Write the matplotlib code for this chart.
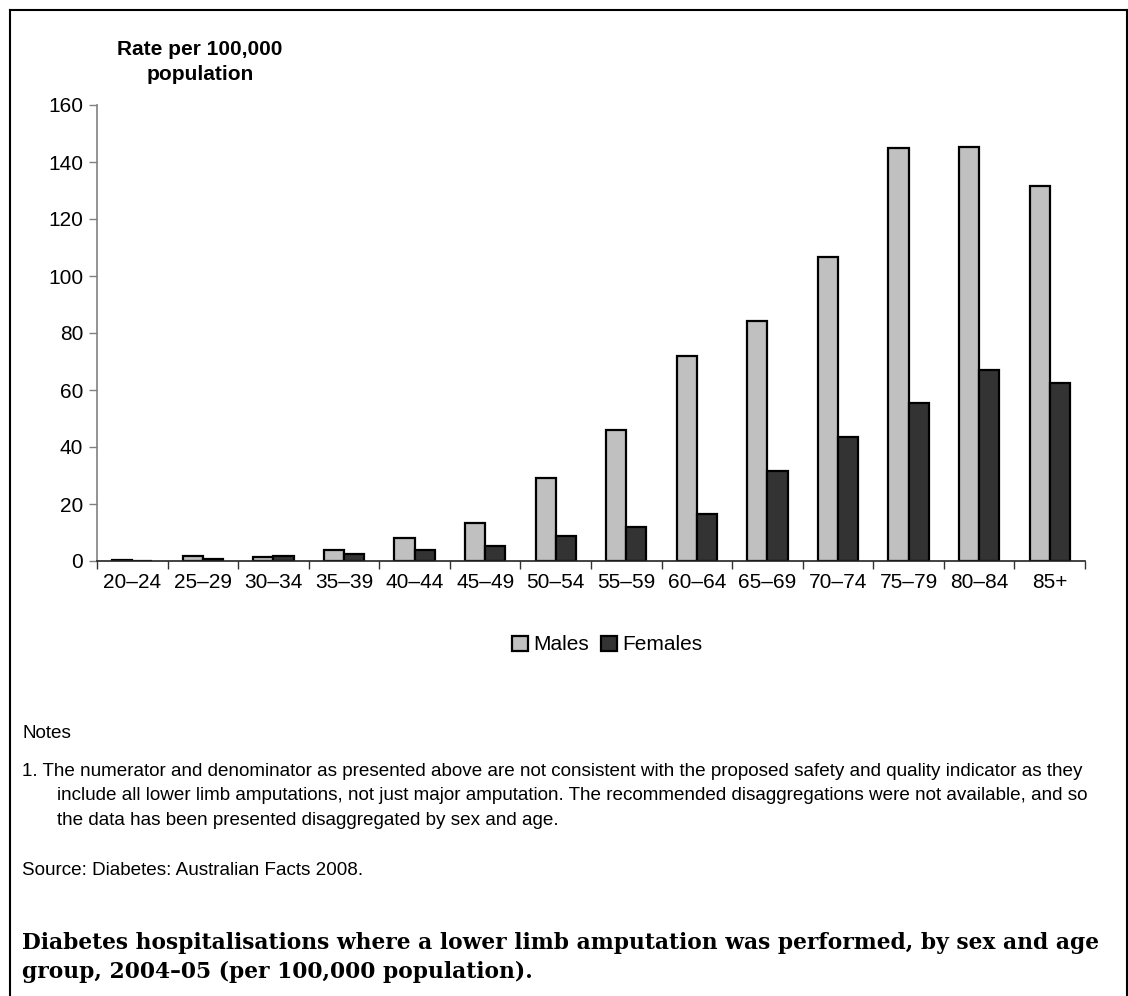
import matplotlib.pyplot as plt
import matplotlib.lines as mlines
import numpy as np

plt.rcParams["font.family"] = ["Liberation Sans", "DejaVu Sans"]

age_groups = ["20–24", "25–29", "30–34", "35–39", "40–44", "45–49", "50–54",
              "55–59", "60–64", "65–69", "70–74", "75–79", "80–84", "85+"]
males = [0.35, 1.8, 1.5, 3.9, 8.2, 13.5, 29.0, 46.0, 71.8, 84.3, 106.8, 145.0, 145.3, 131.5]
females = [0.1, 0.6, 1.8, 2.5, 3.8, 5.3, 8.6, 12.0, 16.6, 31.5, 43.4, 55.4, 66.9, 62.4]

y_ticks = [0, 20, 40, 60, 80, 100, 120, 140, 160]

MALE_COLOUR = "#c0c0c0"
FEMALE_COLOUR = "#333333"

W, H = 1128, 996
fig = plt.figure(figsize=(W / 100, H / 100), dpi=100)
fig.patch.set_facecolor("white")


def fx(px):
    return px / W


def fy(py):
    return 1 - py / H


ax = fig.add_axes([fx(97), fy(561), fx(1085) - fx(97), fy(105) - fy(561)])

x = np.arange(len(age_groups))
w = 0.285
ax.bar(x - w / 2, males, w, color=MALE_COLOUR, edgecolor="black", linewidth=1.6, label="Males")
ax.bar(x + w / 2, females, w, color=FEMALE_COLOUR, edgecolor="black", linewidth=1.6, label="Females")

ax.set_xlim(-0.5, len(age_groups) - 0.5)
ax.set_ylim(0, 160)
ax.set_yticks(y_ticks)
ax.tick_params(axis="y", direction="out", length=6, width=1, color="#808080",
               labelsize=15, pad=4)

# category boundaries as ticks, labels at centres
ax.set_xticks(np.arange(len(age_groups) + 1) - 0.5)
ax.set_xticklabels([])
ax.set_xticks(x, minor=True)
ax.set_xticklabels(age_groups, minor=True, fontsize=15)
ax.tick_params(axis="x", which="major", direction="out", length=6, width=1, color="#333333")
ax.tick_params(axis="x", which="minor", length=0, pad=9)

for side in ["top", "right"]:
    ax.spines[side].set_visible(False)
ax.spines["left"].set_color("#808080")
ax.spines["left"].set_linewidth(1.2)
ax.spines["bottom"].set_color("#222222")
ax.spines["bottom"].set_linewidth(1.2)

fig.text(fx(200), fy(62), "Rate per 100,000\npopulation", ha="center", va="center",
         fontsize=15, fontweight="bold", linespacing=1.35)

fig.legend(loc="center", bbox_to_anchor=(fx(607), fy(645)), ncol=2, frameon=False,
           fontsize=15, handlelength=0.75, handleheight=0.75, handletextpad=0.25,
           columnspacing=0.6)

note_size = 13.6
fig.text(fx(22), fy(733), "Notes", fontsize=note_size, va="center")
fig.text(fx(22), fy(771),
         "1. The numerator and denominator as presented above are not consistent with the "
         "proposed safety and quality indicator as they",
         fontsize=note_size, va="center")
fig.text(fx(57), fy(796),
         "include all lower limb amputations, not just major amputation. The recommended "
         "disaggregations were not available, and so",
         fontsize=note_size, va="center")
fig.text(fx(57), fy(820), "the data has been presented disaggregated by sex and age.",
         fontsize=note_size, va="center")
fig.text(fx(22), fy(870), "Source: Diabetes: Australian Facts 2008.",
         fontsize=note_size, va="center")

title_kw = dict(fontsize=15.7, fontweight="bold", family="DejaVu Serif", va="center")
fig.text(fx(22), fy(943),
         "Diabetes hospitalisations where a lower limb amputation was performed, by sex and age",
         **title_kw)
fig.text(fx(22), fy(972), "group, 2004–05 (per 100,000 population).", **title_kw)

# frame around the figure
frame_kw = dict(color="black", linewidth=1.5, transform=fig.transFigure)
fig.lines.append(mlines.Line2D([fx(10), fx(10)], [fy(10), 0], **frame_kw))
fig.lines.append(mlines.Line2D([fx(10), 1], [fy(10), fy(10)], **frame_kw))
fig.lines.append(mlines.Line2D([fx(1127), fx(1127)], [fy(10), 0], **frame_kw))

fig.savefig("out.png", dpi=100, facecolor="white")
